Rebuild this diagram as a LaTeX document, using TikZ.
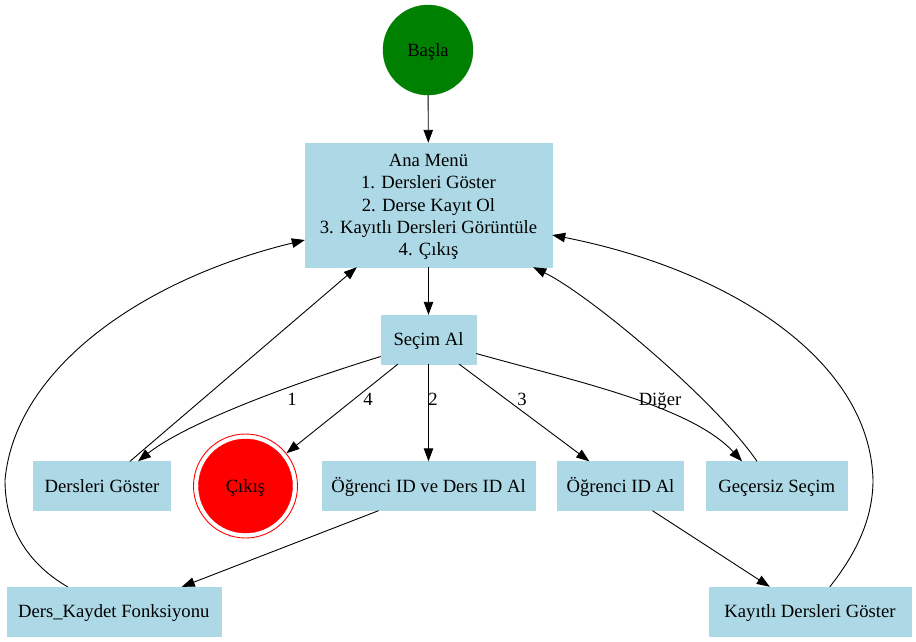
\documentclass[tikz,border=0pt]{standalone}
\usepackage{fontspec}
\setmainfont{Liberation Serif}
\usetikzlibrary{arrows.meta,calc}
\definecolor{lb}{RGB}{173,216,230}
\definecolor{gv}{RGB}{0,128,0}
\definecolor{rd}{RGB}{255,0,0}
\begin{document}
\begin{tikzpicture}[x=1pt,y=-1pt,
  every node/.style={font=\fontsize{18.67}{22.4}\selectfont, inner sep=0pt},
  one/.style={text height=12.75pt, text depth=0pt},
  box/.style={rectangle, fill=lb, draw=lb, minimum height=49pt, align=center},
  edge/.style={draw=black, line width=0.9pt, -{Triangle[length=13pt,width=9.5pt]}},
  lbl/.style={one, font=\fontsize{18.67}{22.4}\selectfont}]
\useasboundingbox (0,0) rectangle (916,641);

\node[circle, one, fill=gv, draw=gv, minimum size=90pt] (basla) at (428,50) {Başla};
\node[box, text depth=0pt, minimum width=247pt, minimum height=124pt] (ana) at (428.5,205)
  {Ana Menü\\1. Dersleri Göster\\2. Derse Kayıt Ol\\3. Kayıtlı Dersleri Görüntüle\\4. Çıkış};
\node[box, one, minimum width=95pt] (secim) at (428.5,339.5) {Seçim Al};
\node[box, one, minimum width=137pt] (ders) at (102,486) {Dersleri Göster};
\node[circle, draw=rd, line width=0.9pt, minimum size=104pt] (cikis) at (245.5,486) {};
\node[circle, one, fill=rd, draw=rd, minimum size=94pt] (cikisin) at (245.5,486) {Çıkış};
\node[box, one, minimum width=213pt] (ogr2) at (428.5,486) {Öğrenci ID ve Ders ID Al};
\node[box, one, minimum width=126pt] (ogr1) at (620.5,486) {Öğrenci ID Al};
\node[box, one, minimum width=141pt] (gecersiz) at (776.7,486) {Geçersiz Seçim};
\node[box, one, minimum width=214pt] (kaydet) at (113.8,611.5) {Ders\_Kaydet Fonksiyonu};
\node[box, one, minimum width=202pt] (kayitli) at (810,611.5) {Kayıtlı Dersleri Göster};

\coordinate (lbend) at (5,480);
\coordinate (rbend) at (873,480);

\draw[edge] (basla) -- (ana);
\draw[edge] (ana) -- (secim);
\draw[edge] ($(secim.west)+(0,17)$) .. controls (310,378) and (190,420) .. ($(ders.north)+(36,0)$);
\draw[edge] ($(secim.south west)+(17,0)$) -- (cikis);
\draw[edge] (secim) -- (ogr2);
\draw[edge] ($(secim.south east)+(-17,0)$) -- ($(ogr1.north west)+(32,0)$);
\draw[edge] ($(secim.east)+(0,14)$) .. controls (570,380) and (690,405) .. ($(gecersiz.north west)+(36,0)$);
\draw[edge] ($(ders.north)+(28,0)$) -- ($(ana.south west)+(52,0)$);
\draw[edge] ($(gecersiz.north west)+(51,0)$) .. controls (715,400) and (590,295) .. ($(ana.south east)+(-19,0)$);
\draw[edge] ($(ogr2.south)+(-50,0)$) -- ($(kaydet.north)+(68,0)$);
\draw[edge] ($(ogr1.south)+(32,0)$) -- ($(kayitli.north west)+(61,0)$);
\draw[edge] ($(kaydet.north west)+(61,0)$) .. controls (30,565) and (5,530) .. (lbend)
  .. controls (15,370) and (140,280) .. ($(ana.west)+(0,35)$);
\draw[edge] ($(kayitli.north west)+(121,0)$) .. controls (855,555) and (873,520) .. (rbend)
  .. controls (870,360) and (730,270) .. ($(ana.east)+(0,30)$);

\node[lbl] (l1) at (292,399) {1};
\node[lbl] (l4) at (368,399) {4};
\node[lbl] (l2) at (433,399) {2};
\node[lbl] (l3) at (522,399) {3};
\node[lbl] (ld) at (660,399) {Diğer};
\end{tikzpicture}
\end{document}
